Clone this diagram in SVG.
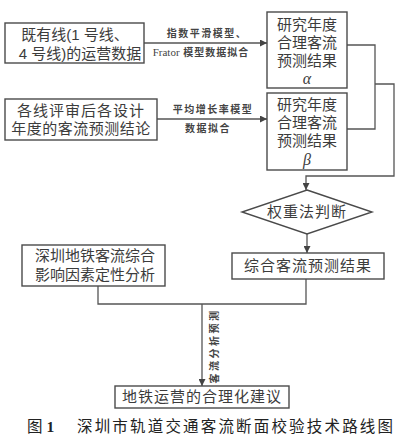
<svg xmlns="http://www.w3.org/2000/svg" width="401" height="440" viewBox="0 0 401 440">
<defs>
<marker id="arr" viewBox="0 0 10 10" refX="10" refY="5" markerWidth="7" markerHeight="7" markerUnits="userSpaceOnUse" orient="auto">
<path d="M0,0 L10,5 L0,10 z" fill="#444"/>
</marker>
<style>
.box{fill:#fff;stroke:#4a4a4a;stroke-width:1.4}
.t{font-family:"Liberation Sans","Noto Sans CJK SC",sans-serif;font-size:15px;fill:#3c3c3c;text-anchor:middle}
.s{font-family:"Liberation Sans","Noto Sans CJK SC",sans-serif;font-size:10px;fill:#444;font-weight:bold;text-anchor:middle}
.g{font-family:"Liberation Serif","Noto Sans CJK SC",serif;font-style:italic;font-size:16px;fill:#3c3c3c;text-anchor:middle}
.c{fill:none;stroke:#555;stroke-width:1.3}
.cap{font-family:"Liberation Serif","Noto Sans CJK SC",serif;font-size:15.5px;fill:#222}
</style>
</defs>
<g id="connectors">
<line class="c" x1="144" y1="43" x2="267" y2="43" marker-end="url(#arr)"/>
<line class="c" x1="157" y1="119" x2="267" y2="119" marker-end="url(#arr)"/>
<polyline class="c" points="347,45 375,45 375,129 347,129"/>
<polyline class="c" points="375,84 394,84 394,176 306,176 306,190" marker-end="url(#arr)"/>
<line class="c" x1="307" y1="234" x2="307" y2="253" marker-end="url(#arr)"/>
<polyline class="c" points="98,286 98,304 306,304 306,279"/>
<line class="c" x1="202" y1="304" x2="202" y2="386" marker-end="url(#arr)"/>
<text class="s" x="207" y="37" letter-spacing="1.5">指数平滑模型、</text>
<text class="s" x="201" y="56"><tspan font-family="Liberation Serif" font-weight="normal" font-size="11">Frator</tspan><tspan letter-spacing="1"> 模型数据拟合</tspan></text>
<text class="s" x="213" y="113" letter-spacing="1.5">平均增长率模型</text>
<text class="s" x="208" y="132" letter-spacing="1.5">数据拟合</text>
<text class="s" transform="translate(218,346) rotate(-90)" letter-spacing="2.5">客流分析预测</text>
</g>
<g id="node-existing">
<rect class="box" x="5" y="23" width="139" height="40"/>
<text class="t" x="75" y="40">既有线(1 号线、</text>
<text class="t" x="80" y="59">4 号线)的运营数据</text>
</g>
<g id="node-review">
<rect class="box" x="5" y="99" width="152" height="41"/>
<text class="t" x="81" y="116" letter-spacing="1">各线评审后各设计</text>
<text class="t" x="81" y="134" letter-spacing="0.5">年度的客流预测结论</text>
</g>
<g id="node-alpha">
<rect class="box" x="267" y="12" width="80" height="76"/>
<text class="t" x="307" y="30">研究年度</text>
<text class="t" x="307" y="48">合理客流</text>
<text class="t" x="307" y="66">预测结果</text>
<text class="g" x="307" y="84">α</text>
</g>
<g id="node-beta">
<rect class="box" x="267" y="93" width="80" height="77"/>
<text class="t" x="307" y="110">研究年度</text>
<text class="t" x="307" y="128">合理客流</text>
<text class="t" x="307" y="146">预测结果</text>
<text class="g" x="307" y="165">β</text>
</g>
<g id="node-weight">
<polygon class="box" points="307,190 372,212 307,234 242,212"/>
<text class="t" x="307" y="217" letter-spacing="1">权重法判断</text>
</g>
<g id="node-combined">
<rect class="box" x="232" y="253" width="152" height="26"/>
<text class="t" x="308" y="271" letter-spacing="1">综合客流预测结果</text>
</g>
<g id="node-factors">
<rect class="box" x="22" y="245" width="143" height="41"/>
<text class="t" x="95" y="261">深圳地铁客流综合</text>
<text class="t" x="95" y="280">影响因素定性分析</text>
</g>
<g id="node-advice">
<rect class="box" x="115" y="386" width="174" height="22"/>
<text class="t" x="202" y="402" letter-spacing="1">地铁运营的合理化建议</text>
</g>
<text class="cap" x="27" y="432">图 <tspan font-weight="bold">1</tspan></text>
<text class="cap" x="77" y="432" textLength="316" lengthAdjust="spacing" font-family="Liberation Serif, Noto Sans CJK SC, sans-serif" font-size="15">深圳市轨道交通客流断面校验技术路线图</text>
</svg>
